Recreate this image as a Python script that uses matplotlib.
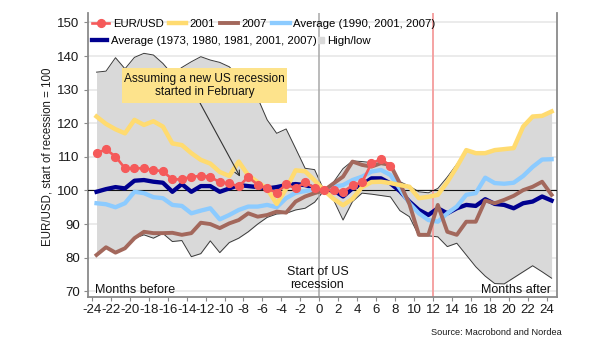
import numpy as np
import matplotlib
matplotlib.use("Agg")
import matplotlib.pyplot as plt
from matplotlib.lines import Line2D
from matplotlib.patches import Rectangle

plt.rcParams['font.family'] = ['Liberation Sans', 'DejaVu Sans']

# ---------------- data ----------------
months = list(range(-24, 25))
xticks = list(range(-24, 25, 2))
yticks = list(range(70, 151, 10))

eurusd_months = list(range(-24, 8))
eurusd = [111.1, 112.2, 110.1, 106.6, 106.6, 106.6, 106.1, 105.7, 103.3, 103.3,
          104.1, 104.3, 104.1, 102.4, 102.1, 101.2, 104.0, 101.7, 100.6, 99.3,
          101.8, 100.6, 102.5, 100.7, 100.0, 100.1, 99.6, 101.5, 102.4, 108.1,
          109.3, 107.4]

y2001 = [122.0, 119.8, 118.2, 117.0, 121.0, 119.5, 120.6, 119.0, 114.0, 113.5,
         111.1, 109.1, 108.0, 105.5, 104.3, 108.6, 104.5, 102.5, 100.5, 96.0,
         100.5, 106.0, 105.7, 103.0, 100.0, 97.5, 95.6, 97.5, 101.0, 102.5,
         102.6, 102.2, 101.6, 101.1, 97.7, 98.1, 98.7, 102.5, 107.0, 112.0,
         111.1, 111.1, 112.0, 112.3, 112.6, 119.0, 122.0, 122.2, 123.5]

y2007 = [80.8, 83.1, 81.5, 82.8, 85.8, 87.7, 87.3, 87.3, 87.4, 86.8,
         87.3, 90.4, 90.0, 88.8, 90.2, 91.2, 93.2, 92.2, 92.7, 93.7,
         93.4, 96.7, 98.2, 99.2, 100.0, 102.1, 104.1, 108.6, 107.6, 107.1,
         108.1, 107.6, 102.1, 96.0, 86.8, 86.8, 95.7, 87.7, 86.8, 90.7,
         90.7, 97.0, 96.2, 97.2, 98.4, 100.1, 101.1, 102.6, 98.7]

avg_90_01_07 = [96.2, 95.9, 95.0, 96.2, 99.6, 99.2, 98.0, 97.7, 95.7, 95.4,
                93.2, 94.0, 94.7, 91.4, 92.7, 94.2, 95.2, 95.2, 95.7, 95.0,
                97.7, 99.3, 99.8, 100.3, 100.0, 101.1, 101.6, 103.1, 104.1, 105.6,
                106.1, 104.6, 100.5, 96.2, 93.2, 91.2, 90.7, 93.2, 95.2, 98.7,
                99.2, 103.8, 102.2, 102.0, 102.3, 104.3, 107.0, 109.2, 109.3]

avg_73_80_81_01_07 = [99.6, 100.4, 101.0, 100.6, 102.9, 103.1, 102.6, 102.3, 99.6, 101.9,
                      99.6, 101.3, 101.3, 99.6, 100.6, 101.6, 101.3, 101.0, 100.6, 101.0,
                      101.6, 101.9, 101.6, 100.8, 100.0, 100.1, 98.2, 100.6, 101.6, 103.6,
                      103.6, 102.1, 99.8, 96.7, 94.2, 92.7, 94.7, 93.2, 94.7, 95.7,
                      95.4, 97.4, 96.0, 95.7, 94.7, 96.2, 96.7, 98.2, 97.0]

high = [135.2, 135.5, 139.5, 136.2, 139.6, 140.8, 140.3, 137.8, 134.5, 136.6,
        138.3, 139.8, 138.8, 138.1, 136.8, 134.0, 131.0, 127.5, 121.0, 117.0,
        118.3, 112.5, 106.6, 106.2, 100.0, 102.5, 106.5, 108.8, 108.6, 108.3,
        108.8, 108.0, 102.6, 101.3, 99.6, 99.3, 100.6, 104.0, 107.8, 112.0,
        111.1, 111.1, 112.0, 112.3, 112.6, 119.0, 122.0, 122.2, 123.5]

low = [80.8, 83.1, 81.5, 82.8, 85.8, 86.8, 85.8, 87.2, 84.8, 85.1,
       80.3, 81.2, 85.0, 81.5, 84.5, 85.8, 87.7, 90.0, 92.0, 93.0,
       93.2, 94.2, 94.7, 96.5, 100.0, 97.2, 91.2, 96.7, 99.2, 98.9,
       98.5, 98.1, 94.0, 92.2, 86.5, 86.5, 86.2, 83.3, 84.3, 80.8,
       77.3, 74.5, 72.3, 72.2, 74.0, 75.8, 77.6, 75.8, 73.9]

# ---------------- figure ----------------
W, H = 605, 341
fig = plt.figure(figsize=(W / 100, H / 100), dpi=100)
ax = fig.add_axes([88 / W, 1 - 297 / H, (557 - 88) / W, (297 - 13) / H])

off = 0.5  # series plotted mid-month
xm = np.array(months) + off
xe = np.array(eurusd_months) + off

ax.set_xlim(-24.4, 25.07)
ax.set_ylim(68.3, 152.8)

for v in yticks:
    ax.axhline(v, color='#ebebeb', lw=1.4, zorder=0)

ax.fill_between(xm, low, high, color='#d9d9d9', lw=0, zorder=1)
ax.plot(xm, high, color='#3a3a3a', lw=0.7, zorder=2)
ax.plot(xm, low, color='#3a3a3a', lw=0.7, zorder=2)

ax.axvline(0, color='#a8a8a8', lw=1.1, zorder=2.5)
ax.axvline(12, color='#f5a3a3', lw=1.4, zorder=2.5)
ax.axhline(100, color='#111111', lw=0.8, zorder=2.6)

l_navy, = ax.plot(xm, avg_73_80_81_01_07, color='#00008f', lw=3.1, zorder=3)
l_lb, = ax.plot(xm, avg_90_01_07, color='#8ccbff', lw=3.1, zorder=3.1)
l_07, = ax.plot(xm, y2007, color='#a3685c', lw=2.8, zorder=3.2)
l_01, = ax.plot(xm, y2001, color='#ffdb70', lw=3.2, zorder=3.3)
l_eur, = ax.plot(xe, eurusd, color='#f55a5a', lw=1.9, marker='o', ms=5.6,
                 zorder=3.5)

# spines / ticks
for s in ['left', 'bottom', 'right']:
    ax.spines[s].set_color('#8a8a8a')
    ax.spines[s].set_linewidth(1.3)
ax.spines['top'].set_visible(False)
ax.set_xticks(xticks)
ax.set_xticklabels([str(t) for t in xticks])
ax.set_yticks(yticks)
ax.tick_params(axis='both', direction='out', length=3, width=0.8,
               color='#8a8a8a', labelsize=9.5, labelcolor='#1a1a1a', pad=2)
ax.tick_params(axis='y', pad=3)

# annotation box
ax.add_patch(Rectangle(((122 - 88) / 469, (297 - 103.3) / 284), 165 / 469, 35 / 284,
                       transform=ax.transAxes, facecolor='#fde38c', edgecolor='none',
                       zorder=6))
ax.text(((122 + 287) / 2 - 88) / 469, (297 - 85.5) / 284,
        'Assuming a new US recession\nstarted in February', transform=ax.transAxes,
        ha='center', va='center', fontsize=8.6, linespacing=1.1, color='#111111',
        zorder=7)
ax.annotate('', xy=(-8.36, 104.1), xytext=(-12.58, 126.0),
            arrowprops=dict(arrowstyle='->', color='#333333', lw=0.8,
                            shrinkA=0, shrinkB=0, mutation_scale=9), zorder=5)

# inner labels
ax.text(0.015, 0.014, 'Months before', transform=ax.transAxes, ha='left',
        va='baseline', fontsize=9, color='#111111')
ax.text(0.9866, 0.014, 'Months after', transform=ax.transAxes, ha='right',
        va='baseline', fontsize=9, color='#111111')
ax.text(-0.2, 0.022, 'Start of US\nrecession', transform=ax.get_xaxis_transform(),
        ha='center', va='bottom', fontsize=9, color='#111111', linespacing=1.05,
        multialignment='center')

# legends
leg_kw = dict(frameon=False, fontsize=8.2, borderpad=0, borderaxespad=0,
              handletextpad=0.3, columnspacing=0.45, labelspacing=0)
leg1 = ax.legend([l_eur, l_01, l_07, l_lb],
                 ['EUR/USD', '2001', '2007', 'Average (1990, 2001, 2007)'],
                 loc='center left', bbox_to_anchor=(0.008, 0.961), ncol=4,
                 handlelength=1.55, **leg_kw)
ax.add_artist(leg1)
leg2 = ax.legend([l_navy], ['Average (1973, 1980, 1981, 2001, 2007)'],
                 loc='center left', bbox_to_anchor=(0.008, 0.901), ncol=1,
                 handlelength=1.35, **leg_kw)
ax.add_artist(leg2)
hl = Line2D([], [], ls='none', marker='s', ms=4, color='#d9d9d9')
ax.legend([hl], ['High/low'], loc='center left',
          bbox_to_anchor=((318 - 88) / 469, 0.901), handlelength=0.5, **leg_kw)

fig.text(48 / W, 1 - 157 / H, 'EUR/USD, start of recession = 100', rotation=90,
         ha='center', va='center', fontsize=8.3, color='#1a1a1a')
fig.text(562 / W, 1 - 335 / H, 'Source: Macrobond and Nordea', ha='right',
         va='baseline', fontsize=6.6, color='#1a1a1a')

fig.savefig('out.png', dpi=100)
